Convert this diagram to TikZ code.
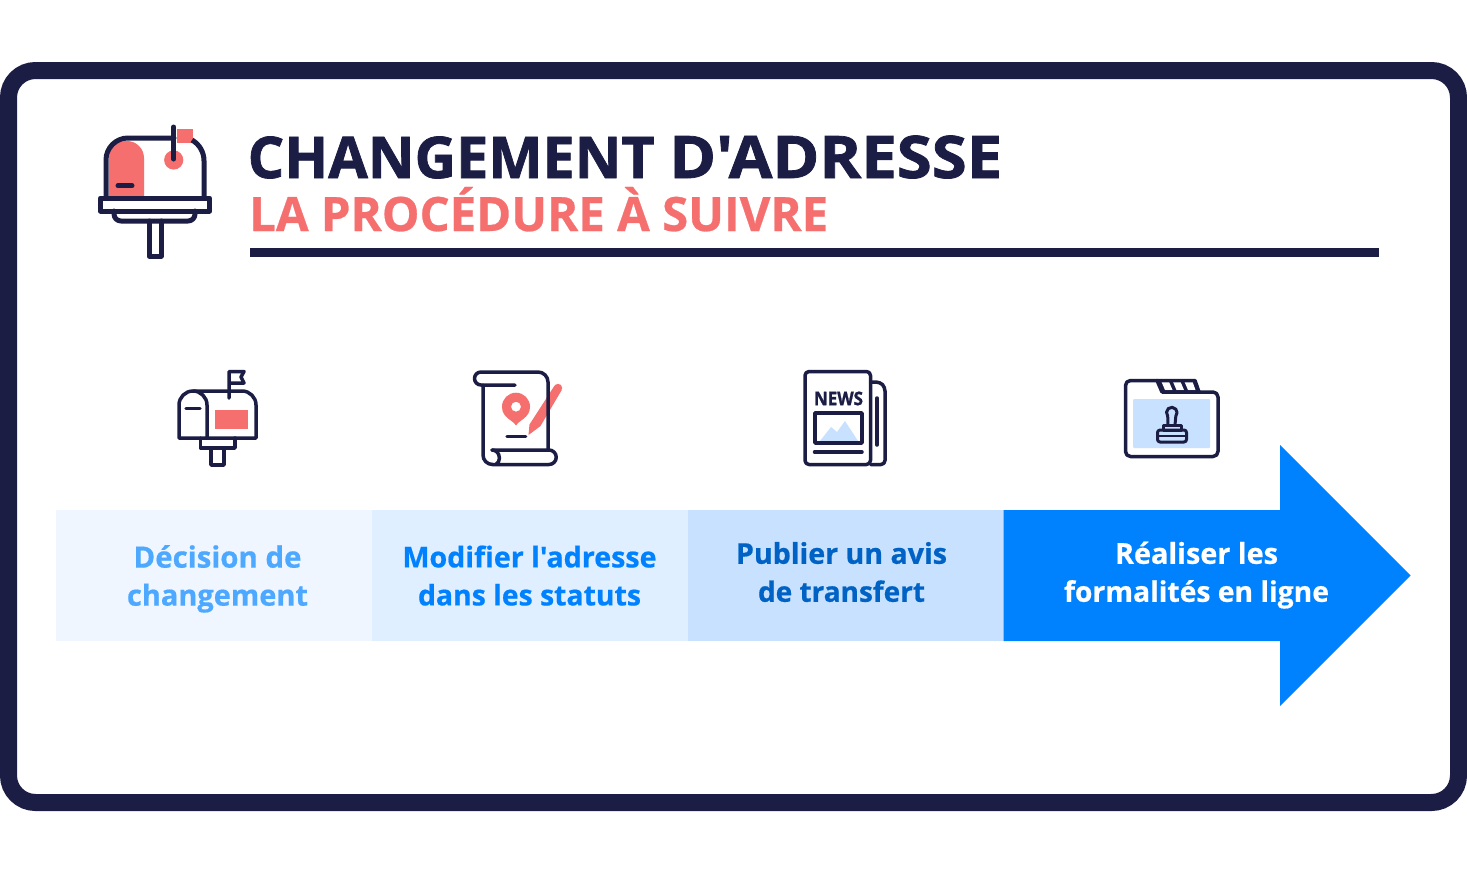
\documentclass[tikz,border=0pt]{standalone}
\usepackage{fontspec}
\usepackage{graphicx}
\setmainfont{Open Sans}[BoldFont=* Bold,BoldFeatures={FakeBold=0.6},Ligatures=TeXOff]
\newfontfamily\heavyfont{Open Sans Bold}[FakeBold=1.3,Ligatures=TeXOff]
\definecolor{navy}{HTML}{1B1D45}
\definecolor{coral}{HTML}{F56F6F}
\definecolor{bandA}{HTML}{EFF6FF}
\definecolor{bandB}{HTML}{E0EFFF}
\definecolor{bandC}{HTML}{C7E1FF}
\definecolor{bandD}{HTML}{0082FF}
\definecolor{txtA}{HTML}{4DA8FF}
\definecolor{txtB}{HTML}{0082FF}
\definecolor{txtC}{HTML}{0062C4}
\definecolor{paleblue}{HTML}{C7E1FF}
\newcommand{\fitw}[2]{\resizebox{#1pt}{!}{\strut #2}}
\tikzset{
 bigline/.style={draw=navy,line width=5pt,line join=round,line cap=round},
 icon/.style={draw=navy,line width=3.5pt,line join=round,line cap=round},
 band/.style={inner sep=0pt,outer sep=0pt,minimum height=131pt,anchor=north west},
 steptext/.style={align=center,font=\bfseries\fontsize{30}{38.5}\selectfont,inner sep=0pt},
}
\begin{document}
\begin{tikzpicture}[x=1pt,y=-1pt]
\useasboundingbox (0,0) rectangle (1467,873);
\fill[white] (0,0) rectangle (1467,873);
% frame
\draw[navy,line width=17pt,fill=white,rounded corners=27pt] (8.5,70.5) rectangle (1458.5,802.5);
% header icon
\fill[coral] (109,196) -- (109,158) arc[start angle=-180,end angle=-90,radius=17] -- (127,141) arc[start angle=-90,end angle=0,radius=17] -- (144,196) -- cycle;
\fill[coral] (173.7,160) circle[radius=9.6];
\fill[coral] (177,129) rectangle (192.5,142.5);
\draw[bigline] (106,198) -- (106,160) arc[start angle=-180,end angle=-90,radius=22] -- (174,138);
\draw[bigline,line cap=butt] (192,140) arc[start angle=-60,end angle=0,radius=24] -- (204,198);
\draw[bigline] (173.7,127) -- (173.7,159);
\draw[bigline] (118,185.7) -- (132,185.7);
\draw[bigline,fill=white] (100.5,198) rectangle (209.5,211);
\draw[bigline] (114,211) -- (114,214) arc[start angle=-180,end angle=-270,radius=7] -- (188,221) arc[start angle=90,end angle=0,radius=7] -- (195,211);
\draw[bigline] (149,221) -- (149,256) -- (161,256) -- (161,221);
% title
\node[anchor=base west,inner sep=0pt,text=navy] (title) at (247.5,178) {\heavyfont\fontsize{54}{60}\selectfont\resizebox{407pt}{!}{CHANGEMENT}\hspace{14.5pt}\resizebox{333pt}{42.5pt}{D'ADRESSE}};
\node[anchor=base west,inner sep=0pt,text=coral] (subtitle) at (249,231) {\resizebox{579pt}{!}{\bfseries\fontsize{44}{50}\selectfont LA PROCÉDURE À SUIVRE}};
\fill[navy] (250,248) rectangle (1379,257);
% bands
\node[band,fill=bandA,minimum width=316pt] (b1) at (56,510) {};
\node[band,fill=bandB,minimum width=316pt] (b2) at (372,510) {};
\node[band,fill=bandC,minimum width=315.5pt] (b3) at (688,510) {};
\fill[bandD] (1003.5,510) -- (1280,510) -- (1280,445) -- (1410.5,575.5) -- (1280,706) -- (1280,641) -- (1003.5,641) -- cycle;
% texts
\node[steptext,text=txtA] (t1) at (217.5,579) {\fitw{168}{Décision de}\\[-0.5pt]\fitw{181}{changement}};
\node[steptext,text=txtB] (t2) at (529.5,579) {\fitw{254}{Modifier l'adresse}\\[-0.5pt]\fitw{223}{dans les statuts}};
\node[steptext,text=txtC] (t3) at (841.5,575.3) {\fitw{211}{Publier un avis}\\[-0.5pt]\fitw{167}{de transfert}};
\node[steptext,text=white] (t4) at (1196.5,575.3) {\fitw{163}{Réaliser les}\\[-0.5pt]\fitw{265}{formalités en ligne}};
% small mailbox
\fill[coral] (215,410) rectangle (247.5,429);
\draw[icon] (179,438) -- (179,405) arc[start angle=-180,end angle=0,radius=14] -- (207,438) -- cycle;
\draw[icon] (193,391) -- (242,391) arc[start angle=-90,end angle=0,radius=14] -- (256,438) -- (207,438);
\draw[icon] (186,408.7) -- (200,408.7);
\draw[icon] (229,398) -- (229,371.5) -- (244,371.5) -- (241,377) -- (244,383) -- (229,383);
\draw[icon] (200.5,438) -- (200.5,448) -- (235,448) -- (235,438);
\draw[icon] (211,448) -- (211,465) -- (224,465) -- (224,448);
% scroll
\fill[coral,even odd rule] (516,425.5) .. controls (513,420) and (502,418) .. (502,406.7) arc[start angle=-180,end angle=0,radius=14] .. controls (530,418) and (519,420) .. (516,425.5) -- cycle (516,406.7) circle[radius=5];
\fill[coral] (558,388) circle[radius=4.2];
\fill[coral] (554.4,385.8) -- (529.5,424.5) -- (528.5,435) -- (540.5,426) -- (561.6,390.2) -- cycle;
\draw[icon] (515,385) -- (481,385) arc[start angle=-270,end angle=-90,radius=6.5] -- (538,372) arc[start angle=-90,end angle=0,radius=10] -- (548,450);
\draw[icon] (483,385) -- (483,455) arc[start angle=-180,end angle=-270,radius=9.5];
\draw[icon] (492,450) -- (549,450) arc[start angle=-90,end angle=90,radius=7.25] -- (492.5,464.5);
\draw[icon] (492,450) arc[start angle=-90,end angle=0,radius=7.25] -- (499.25,459) arc[start angle=0,end angle=60,radius=6];
\draw[icon] (507,436.7) -- (525.7,436.7);
% newspaper
\fill[paleblue] (820,441) -- (831,427) -- (837,432) -- (845,421) -- (858,441) -- cycle;
\draw[icon,rounded corners=4pt] (870.5,382) -- (880,382) -- (885,387) -- (885,464.5) -- (870.5,464.5);
\draw[icon,rounded corners=4pt] (805,371.5) rectangle (870.5,464.5);
\draw[icon] (877,398) -- (877,445);
\node[inner sep=0pt,text=navy] (news) at (838.5,398.5) {\resizebox{49pt}{13.5pt}{\heavyfont NEWS}};
\draw[icon] (815,413) rectangle (862,443);
\draw[icon] (814.5,452) -- (862,452);
% folder
\fill[paleblue,rounded corners=1pt] (1133,399) rectangle (1210,448);
\fill[navy] (1157,380) -- (1195,380) -- (1199,392) -- (1162,392) -- cycle;
\fill[white] (1161.5,381.8) -- (1169,381.8) -- (1172.5,390) -- (1165,390) -- cycle;
\fill[white] (1173,381.8) -- (1180.5,381.8) -- (1184,390) -- (1176.5,390) -- cycle;
\fill[white] (1184.5,381.8) -- (1192.5,381.8) -- (1195.5,390) -- (1188,390) -- cycle;
\draw[icon,rounded corners=5pt] (1157,380.5) -- (1125.5,380.5) -- (1125.5,456.5) -- (1218,456.5) -- (1218,392) -- (1162,392);
\draw[icon] (1157,380.5) -- (1195,380.5) -- (1199,392);
\draw[icon] (1157,380.5) -- (1162,392);
\draw[icon,line width=3pt] (1168,425) -- (1167.7,416) arc[start angle=-220,end angle=40,radius=5.3] -- (1175,425);
\draw[icon,line width=3pt,fill=paleblue] (1163,425.5) rectangle (1181,430);
\draw[icon,line width=3pt,rounded corners=2.5pt] (1157.5,430) rectangle (1186.5,442);
\draw[icon,line width=2.4pt] (1158,436) -- (1186,436);
\end{tikzpicture}
\end{document}
